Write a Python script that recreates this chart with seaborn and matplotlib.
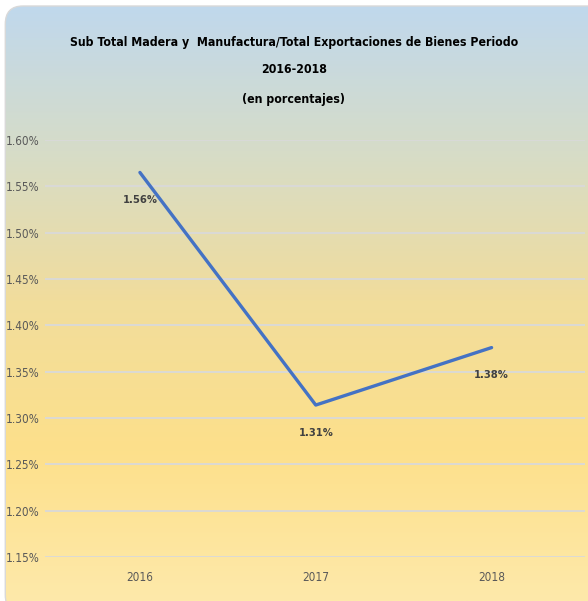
import numpy as np
import pandas as pd
import matplotlib
matplotlib.use("Agg")
import matplotlib.pyplot as plt
from matplotlib.patches import FancyBboxPatch
from matplotlib.colors import LinearSegmentedColormap
import matplotlib.ticker as mticker
import seaborn as sns

# Data (share of total goods exports, in percent)
years = ["2016", "2017", "2018"]
values = [1.565, 1.314, 1.376]
labels = ["1.56%", "1.31%", "1.38%"]
yticks = [1.15, 1.20, 1.25, 1.30, 1.35, 1.40, 1.45, 1.50, 1.55, 1.60]

df = pd.DataFrame({"Year": years, "Value": values})

sns.set_theme(style="white")
plt.rcParams['font.family'] = ['DejaVu Sans']
plt.rcParams['font.stretch'] = 'condensed'

fig = plt.figure(figsize=(5.88, 6.01), dpi=100)
fig.patch.set_facecolor("white")

# gradient background, light blue on top to warm yellow at bottom
bg = fig.add_axes([0, 0, 1, 1], zorder=0)
bg.set_xlim(0, 1)
bg.set_ylim(0, 1)
bg.axis("off")
cmap = LinearSegmentedColormap.from_list(
    "bg", [(0.0, "#fee9aa"), (0.25, "#fde08b"), (0.5, "#f1dd9c"),
           (0.75, "#d6dcc8"), (1.0, "#bfd8ee")])
grad = np.linspace(0, 1, 256).reshape(-1, 1)
patch = FancyBboxPatch((0.009, -0.02), 1.1, 1.01,
                       boxstyle="round,pad=0,rounding_size=0.03",
                       transform=bg.transAxes, facecolor="none",
                       edgecolor="#d9d9d9", linewidth=1.0)
bg.add_patch(patch)
im = bg.imshow(grad, aspect="auto", cmap=cmap, origin="lower",
               extent=[0, 1, 0, 1], zorder=0)
im.set_clip_path(patch)

ax = fig.add_axes([0.0765, 0.0732, 0.918, 0.6938], zorder=1)
ax.set_facecolor("none")

sns.lineplot(data=df, x="Year", y="Value", ax=ax, color="#4472c4",
             linewidth=2.4, sort=False)

for i, (v, lab) in enumerate(zip(values, labels)):
    ax.annotate(lab, (i, v), xytext=(0, -20), textcoords="offset points",
                ha="center", va="center", fontsize=8, color="#404040",
                fontweight="bold")

ax.set_ylim(1.15, 1.60)
ax.set_xlim(-0.54, 2.53)
ax.set_yticks(yticks)
ax.yaxis.set_major_formatter(mticker.FuncFormatter(lambda v, p: f"{v:.2f}%"))
ax.grid(axis="y", color="#d9d9d9", linewidth=1.3)
ax.set_axisbelow(True)
for s in ax.spines.values():
    s.set_visible(False)
ax.tick_params(axis="both", length=0, labelsize=8.5, labelcolor="#595959")
ax.tick_params(axis="y", pad=4)
ax.tick_params(axis="x", pad=10)
ax.set_xlabel("")
ax.set_ylabel("")

title_kw = dict(ha="center", va="center", fontsize=8.8, fontweight="bold",
                color="#000000")
fig.text(0.5, 0.930, "Sub Total Madera y  Manufactura/Total Exportaciones de Bienes Periodo",
         **title_kw)
fig.text(0.5, 0.884, "2016-2018", **title_kw)
fig.text(0.5, 0.834, "(en porcentajes)", **title_kw)

fig.savefig("out.png", dpi=100)
